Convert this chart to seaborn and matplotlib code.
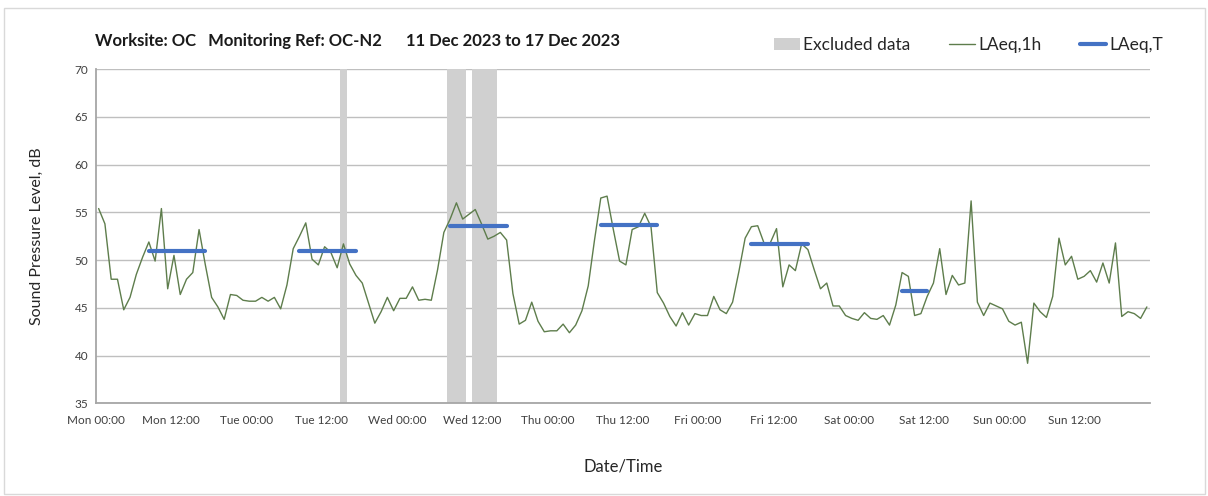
import numpy as np
import pandas as pd
import matplotlib
matplotlib.use("Agg")
import matplotlib.pyplot as plt
from matplotlib.patches import Patch, Rectangle
from matplotlib.lines import Line2D
import seaborn as sns

# Hourly LAeq,1h readings (dB), one per hour, Mon 00:00 -> Sun 24:00
laeq_1h = [
    55.4, 53.8, 48.0, 48.0, 44.8, 46.1, 48.5, 50.3, 51.9, 49.9, 55.4, 47.0,
    50.5, 46.4, 48.0, 48.7, 53.2, 49.5, 46.1, 45.1, 43.8, 46.4, 46.3, 45.8,
    45.7, 45.7, 46.1, 45.7, 46.1, 44.9, 47.4, 51.2, 52.5, 53.9, 50.1, 49.5,
    51.4, 50.8, 49.2, 51.7, 49.6, 48.4, 47.6, 45.5, 43.4, 44.6, 46.1, 44.7,
    46.0, 46.0, 47.2, 45.8, 45.9, 45.8, 49.0, 52.9, 54.3, 56.0, 54.3, 54.8,
    55.3, 53.8, 52.2, 52.5, 52.9, 52.1, 46.5, 43.3, 43.7, 45.6, 43.6, 42.5,
    42.6, 42.6, 43.3, 42.4, 43.2, 44.7, 47.3, 52.1, 56.5, 56.7, 53.2, 49.9,
    49.5, 53.2, 53.5, 54.9, 53.5, 46.6, 45.5, 44.1, 43.1, 44.5, 43.2, 44.4,
    44.2, 44.2, 46.2, 44.8, 44.4, 45.6, 48.8, 52.3, 53.5, 53.6, 51.8, 51.8,
    53.3, 47.2, 49.5, 48.9, 51.7, 51.1, 49.0, 47.0, 47.6, 45.2, 45.2, 44.2,
    43.9, 43.7, 44.5, 43.9, 43.8, 44.2, 43.2, 45.3, 48.7, 48.3, 44.2, 44.4,
    46.2, 47.6, 51.2, 46.4, 48.4, 47.4, 47.6, 56.2, 45.6, 44.2, 45.5, 45.2,
    44.9, 43.6, 43.2, 43.5, 39.2, 45.5, 44.6, 44.0, 46.2, 52.3, 49.5, 50.4,
    48.0, 48.3, 48.9, 47.7, 49.7, 47.6, 51.8, 44.1, 44.6, 44.4, 43.9, 45.1,
]
# mid-hour time stamps, hours from Mon 00:00
hours = np.arange(len(laeq_1h)) + 0.5

# LAeq,T over each assessment period (hours from Mon 00:00)
period_start = [8.5, 32.5, 56.5, 80.5, 104.5, 128.5]
period_end = [17.5, 41.5, 65.5, 89.5, 113.5, 132.5]
period_level = [50.95, 51.0, 53.6, 53.7, 51.7, 46.8]

# Excluded data windows (hours from Mon 00:00)
excl_start = [39, 56, 60]
excl_end = [40, 59, 64]

days = ["Mon", "Tue", "Wed", "Thu", "Fri", "Sat", "Sun"]
tick_labels = [f"{d} {t}" for d in days for t in ("00:00", "12:00")] + [""]
y_ticks = [35, 40, 45, 50, 55, 60, 65, 70]

title_text = "Worksite: OC   Monitoring Ref: OC-N2      11 Dec 2023 to 17 Dec 2023"

sns.set_theme(style="white")
plt.rcParams["font.family"] = ["Lato", "DejaVu Sans"]

green = "#5e7d4c"
blue = "#4472c4"
grey_band = "#d0d0d0"

fig = plt.figure(figsize=(12.08, 4.96), dpi=100)
ax = fig.add_axes([95.5 / 1208, 1 - 403.4 / 496, (1150 - 95.5) / 1208, (403.4 - 69.1) / 496])

for s, e in zip(excl_start, excl_end):
    ax.axvspan(s, e, color=grey_band, lw=0, zorder=1)

df = pd.DataFrame({"hour": hours, "LAeq,1h": laeq_1h})
sns.lineplot(data=df, x="hour", y="LAeq,1h", ax=ax, color=green, lw=1.0, zorder=3)

ax.hlines(period_level, period_start, period_end, colors=blue, lw=3.0, zorder=4,
          capstyle="round")

ax.set_xlim(0, 168)
ax.set_ylim(35, 70)
ax.set_xticks(np.arange(0, 169, 12))
ax.set_xticklabels(tick_labels, fontsize=8.5, color="#404040")
ax.set_xticks(np.arange(24, 169, 24), minor=True)
ax.set_yticks(y_ticks)
ax.set_yticklabels([str(v) for v in y_ticks], fontsize=8.5, color="#404040")

ax.grid(False)
ax.yaxis.grid(True, color="#bfbfbf", lw=1.0, zorder=0)
ax.xaxis.grid(True, which="minor", color="#d9d9d9", lw=1.0, zorder=0)
ax.set_axisbelow(True)

for side in ("top", "right"):
    ax.spines[side].set_visible(False)
for side in ("left", "bottom"):
    ax.spines[side].set_color("#a6a6a6")
    ax.spines[side].set_linewidth(1.3)

ax.tick_params(axis="both", which="major", direction="inout", length=6, width=0.9,
               colors="#a6a6a6", labelcolor="#404040", pad=2)
ax.tick_params(axis="x", which="major", pad=5)
ax.tick_params(axis="x", which="minor", length=0)

ax.set_xlabel("Date/Time", fontsize=12, color="#262626", labelpad=24)
ax.set_ylabel("Sound Pressure Level, dB", fontsize=11.5, color="#262626", labelpad=22)

fig.text(95 / 1208, 1 - 41 / 496, title_text, fontsize=12, fontweight="bold",
         color="#1a1a1a", va="center", ha="left")

handles = [
    Patch(facecolor=grey_band, edgecolor="none"),
    Line2D([], [], color=green, lw=1.0),
    Line2D([], [], color=blue, lw=3.0),
]
fig.legend(handles, ["Excluded data", "LAeq,1h", "LAeq,T"], loc="center right",
           bbox_to_anchor=(1175 / 1208, 1 - 45 / 496), ncol=3, frameon=False,
           fontsize=12.5, handlelength=1.5, handletextpad=0.2, columnspacing=2.2,
           labelcolor="#262626", borderpad=0.2)

fig.patches.append(Rectangle((4 / 1208, 2 / 496), 1201 / 1208, 486 / 496,
                             transform=fig.transFigure, fill=False,
                             edgecolor="#d9d9d9", lw=1.0))

fig.savefig("out.png", dpi=100)
